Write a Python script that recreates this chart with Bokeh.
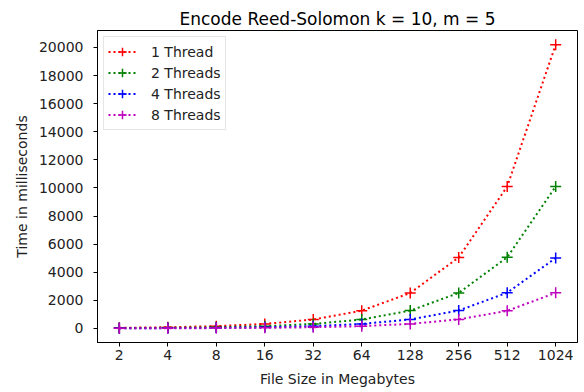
from bokeh.plotting import figure
from bokeh.models import Range1d, FixedTicker
from bokeh.embed import file_html
from bokeh.resources import INLINE

sizes = ["2", "4", "8", "16", "32", "64", "128", "256", "512", "1024"]
one_thread = [40, 79, 158, 316, 632, 1262, 2520, 5050, 10100, 20200]
two_threads = [20, 40, 79, 158, 316, 632, 1265, 2525, 5060, 10100]
four_threads = [10, 20, 40, 80, 160, 318, 636, 1270, 2540, 5010]
eight_threads = [5, 10, 20, 40, 80, 160, 320, 640, 1250, 2530]

series = [
    ("1 Thread", one_thread, "#ff0000"),
    ("2 Threads", two_threads, "#008000"),
    ("4 Threads", four_threads, "#0000ff"),
    ("8 Threads", eight_threads, "#bf00bf"),
]

xs = list(range(len(sizes)))
FONT = "DejaVu Sans"

p = figure(frame_width=480, frame_height=312,
           x_range=Range1d(-0.45, len(sizes) - 1 + 0.45),
           y_range=Range1d(-1005, 21210),
           output_backend="svg", toolbar_location=None,
           min_border_left=97, min_border_right=6,
           min_border_top=30, min_border_bottom=48,
           title="Encode Reed-Solomon k = 10, m = 5")

for label, vals, color in series:
    p.line(xs, vals, line_color=color, line_width=2, line_dash="2 3",
           legend_label=label)
    p.scatter(xs, vals, marker="cross", size=11, line_color=color,
              line_width=1.5, legend_label=label)

p.title.align = "center"
p.title.text_font = FONT
p.title.text_font_size = "17px"
p.title.text_font_style = "normal"
p.title.text_color = "#000000"
p.title.standoff = 4

p.xgrid.visible = False
p.ygrid.visible = False
p.outline_line_color = "#000000"
p.outline_line_alpha = 1
p.outline_line_width = 1

p.xaxis.ticker = FixedTicker(ticks=xs)
p.xaxis.major_label_overrides = {i: s for i, s in enumerate(sizes)}
p.yaxis.ticker = FixedTicker(ticks=list(range(0, 20001, 2000)))

for ax in (p.xaxis, p.yaxis):
    ax.axis_line_color = "#000000"
    ax.major_tick_line_color = "#000000"
    ax.minor_tick_line_color = None
    ax.major_tick_in = 0
    ax.major_tick_out = 4
    ax.major_label_text_font = FONT
    ax.major_label_text_font_size = "14px"
    ax.major_label_text_color = "#222222"
    ax.axis_label_text_font = FONT
    ax.axis_label_text_font_size = "14px"
    ax.axis_label_text_font_style = "normal"
    ax.axis_label_text_color = "#222222"

p.xaxis.axis_label = "File Size in Megabytes"
p.yaxis.axis_label = "Time in milliseconds"
p.xaxis.major_label_standoff = 3
p.xaxis.axis_label_standoff = 8
p.yaxis.major_label_standoff = 10
p.yaxis.axis_label_standoff = 6

lg = p.legend[0]
lg.location = "top_left"
lg.margin = 6
lg.padding = 4
lg.spacing = 0
lg.glyph_width = 28
lg.glyph_height = 21
lg.label_height = 21
lg.label_standoff = 15
lg.label_text_font = FONT
lg.label_text_font_size = "14px"
lg.label_text_color = "#222222"
lg.border_line_color = "#cccccc"
lg.border_line_width = 1
lg.background_fill_alpha = 0.8

open("out.html", "w").write(file_html(p, INLINE))
